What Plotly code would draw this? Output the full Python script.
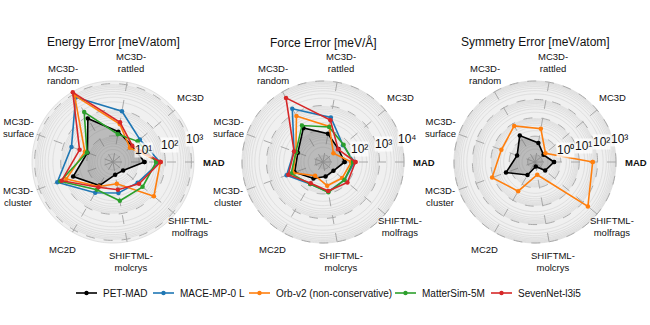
import numpy as np
import plotly.graph_objects as go

categories = ["MAD", "MC3D", "MC3D-rattled", "MC3D-random", "MC3D-surface",
              "MC3D-cluster", "MC2D", "SHIFTML-molcrys", "SHIFTML-molfrags"]
cat_labels = ["<b>MAD</b>", "MC3D", "MC3D-<br>rattled", "MC3D-<br>random", "MC3D-<br>surface",
              "MC3D-<br>cluster", "MC2D", "SHIFTML-<br>molcrys", "SHIFTML-<br>molfrags"]
angles = [0, 40, 80, 120, 160, 200, 240, 280, 320]

models = ["PET-MAD", "MACE-MP-0 L", "Orb-v2 (non-conservative)", "MatterSim-5M", "SevenNet-l3i5"]
colors = ["#000000", "#1f77b4", "#ff7f0e", "#2ca02c", "#d62728"]

energy_pet = [16, 9, 15, 84, 11, 42, 11, 3.1, 3.2]
energy_mace = [62, 22, 94, 720, 49, 186, 23, 16, 17]
energy_orb = [65, 7, 30, 880, 14, 80, 12, 7, 110]
energy_mattersim = [45, 17, 12, 160, 11.5, 140, 17, 32, 30]
energy_sevennet = [66, 9.3, 35, 1200, 23, 123, 13, 12, 20]

force_pet = [38, 33, 74, 200, 62, 85, 30, 20, 18]
force_mace = [95, 58, 350, 1600, 90, 190, 55, 85, 70]
force_orb = [72, 18, 148, 730, 75, 100, 22, 48, 52]
force_mattersim = [84, 62, 140, 260, 75, 120, 55, 90, 69]
force_sevennet = [105, 32, 270, 5200, 90, 160, 50, 80, 100]

sym_pet = [0.43, 0.16, 0.45, 1.8, 0.43, 1.9, 0.26, 0.07, 0.21]
sym_orb = [54, 0.22, 2.7, 7.3, 3.5, 12, 2.7, 0.2, 225]

SUP = {0: "⁰", 1: "¹", 2: "²", 3: "³", 4: "⁴"}

titles = ["Energy Error [meV/atom]", "Force Error [meV/Å]", "Symmetry Error [meV/atom]"]
panels = [
    dict(series=[energy_pet, energy_mace, energy_orb, energy_mattersim, energy_sevennet],
         lo=0.0, hi=3.1, labels=[1, 2, 3], cx=113),
    dict(series=[force_pet, force_mace, force_orb, force_mattersim, force_sevennet],
         lo=0.7, hi=4.0, labels=[2, 3, 4], cx=323),
    dict(series=[sym_pet, None, sym_orb, None, None],
         lo=-1.4, hi=3.0, labels=[0, 1, 2, 3], cx=535),
]

W, H = 650, 325
CY = 162
R_DISK = 81.0
R_SPOKE = 88.0
R_LABEL = 101.0
RLAB_ANGLE = np.deg2rad(12)
FONT = "Liberation Sans, Arial, sans-serif"

fig = go.Figure()
circ = np.linspace(0, 360, 181)


def px_to_paper(x, y):
    return x / W, (H - y) / H


for i, p in enumerate(panels):
    pid = "polar" if i == 0 else f"polar{i+1}"
    sub = pid
    lo, hi = p["lo"], p["hi"]
    hi_ext = lo + (hi - lo) * R_SPOKE / R_DISK
    cx = p["cx"]

    # background disk
    fig.add_trace(go.Scatterpolar(r=[10 ** hi] * len(circ), theta=circ, mode="lines",
                                  fill="toself", fillcolor="rgba(0,0,0,0.06)",
                                  line=dict(color="#d0d0d0", width=0.6),
                                  hoverinfo="skip", showlegend=False, subplot=sub))
    minor_r, minor_t, major_r, major_t = [], [], [], []
    for d in range(int(np.floor(lo)), int(np.ceil(hi)) + 1):
        for m in range(1, 10):
            v = m * 10.0 ** d
            lv = np.log10(v)
            if lv <= lo + 1e-6 or lv > hi + 1e-6:
                continue
            if m == 1:
                major_r += [v] * len(circ) + [None]
                major_t += list(circ) + [None]
            else:
                minor_r += [v] * len(circ) + [None]
                minor_t += list(circ) + [None]
    fig.add_trace(go.Scatterpolar(r=minor_r, theta=minor_t, mode="lines",
                                  line=dict(color="#d4d4d4", width=0.6),
                                  hoverinfo="skip", showlegend=False, subplot=sub))
    fig.add_trace(go.Scatterpolar(r=major_r, theta=major_t, mode="lines",
                                  line=dict(color="#a8a8a8", width=1, dash="dash"),
                                  hoverinfo="skip", showlegend=False, subplot=sub))
    sr, st = [], []
    for a in angles:
        sr += [10 ** lo, 10 ** hi_ext, None]
        st += [a, a, None]
    fig.add_trace(go.Scatterpolar(r=sr, theta=st, mode="lines",
                                  line=dict(color="#a8a8a8", width=1, dash="dash"),
                                  hoverinfo="skip", showlegend=False, subplot=sub))

    for j, (name, col, vals) in enumerate(zip(models, colors, p["series"])):
        if vals is None:
            continue
        rr = list(vals) + [vals[0]]
        tt = angles + [angles[0]]
        if j == 0:
            fig.add_trace(go.Scatterpolar(r=rr, theta=tt, mode="none", fill="toself",
                                          fillcolor="rgba(100,100,100,0.38)",
                                          hoverinfo="skip", showlegend=False, subplot=sub))
        fig.add_trace(go.Scatterpolar(r=rr, theta=tt, mode="lines+markers", name=name,
                                      line=dict(color=col, width=1.6),
                                      marker=dict(color=col, size=4.5),
                                      showlegend=False, subplot=sub))

    dom_x = [(cx - R_SPOKE) / W, (cx + R_SPOKE) / W]
    dom_y = [(H - CY - R_SPOKE) / H, (H - CY + R_SPOKE) / H]
    fig.update_layout(**{pid: dict(
        domain=dict(x=dom_x, y=dom_y),
        bgcolor="rgba(0,0,0,0)",
        radialaxis=dict(type="log", range=[lo, hi_ext], visible=False),
        angularaxis=dict(thetaunit="degrees", direction="counterclockwise", rotation=0,
                         visible=False),
    )})

    for a, lab in zip(angles, cat_labels):
        t = np.deg2rad(a)
        x, y = px_to_paper(cx + R_LABEL * np.cos(t), CY - R_LABEL * np.sin(t))
        fig.add_annotation(text=lab, x=x, y=y, xref="paper", yref="paper", showarrow=False,
                           xanchor="center", yanchor="middle", align="center",
                           font=dict(size=9.5, color="#111", family=FONT))
    pxdec = R_DISK / (hi - lo)
    for k in p["labels"]:
        rt = (k - lo) * pxdec
        x, y = px_to_paper(cx + rt * np.cos(RLAB_ANGLE) + 5, CY - rt * np.sin(RLAB_ANGLE) - 6.5)
        fig.add_annotation(text="10" + SUP[k], x=x, y=y, xref="paper", yref="paper",
                           showarrow=False, xanchor="center", yanchor="middle",
                           bgcolor="rgba(255,255,255,0.75)", borderpad=0,
                           font=dict(size=12, color="#111", family=FONT))
    x, y = px_to_paper(cx, 42)
    fig.add_annotation(text=titles[i], x=x, y=y, xref="paper", yref="paper",
                       showarrow=False, xanchor="center", yanchor="middle",
                       font=dict(size=12, color="#111", family=FONT))

leg_y = 293
leg_x = [76, 153, 249, 395, 491]
for name, col, lx in zip(models, colors, leg_x):
    x0, y0 = px_to_paper(lx, leg_y)
    x1, _ = px_to_paper(lx + 21, leg_y)
    fig.add_shape(type="line", xref="paper", yref="paper", x0=x0, x1=x1, y0=y0, y1=y0,
                  line=dict(color=col, width=1.6))
    mx0, my0 = px_to_paper(lx + 10.5 - 2.2, leg_y - 2.2)
    mx1, my1 = px_to_paper(lx + 10.5 + 2.2, leg_y + 2.2)
    fig.add_shape(type="circle", xref="paper", yref="paper", x0=mx0, x1=mx1, y0=my0, y1=my1,
                  line=dict(color=col, width=0), fillcolor=col)
    tx, ty = px_to_paper(lx + 25, leg_y)
    fig.add_annotation(text=name, x=tx, y=ty, xref="paper", yref="paper", showarrow=False,
                       xanchor="left", yanchor="middle",
                       font=dict(size=10, color="#111", family=FONT))

fig.update_layout(
    width=W, height=H, margin=dict(l=0, r=0, t=0, b=0),
    paper_bgcolor="white", plot_bgcolor="white",
    font=dict(family=FONT), showlegend=False,
)
fig.write_html("out.html")
